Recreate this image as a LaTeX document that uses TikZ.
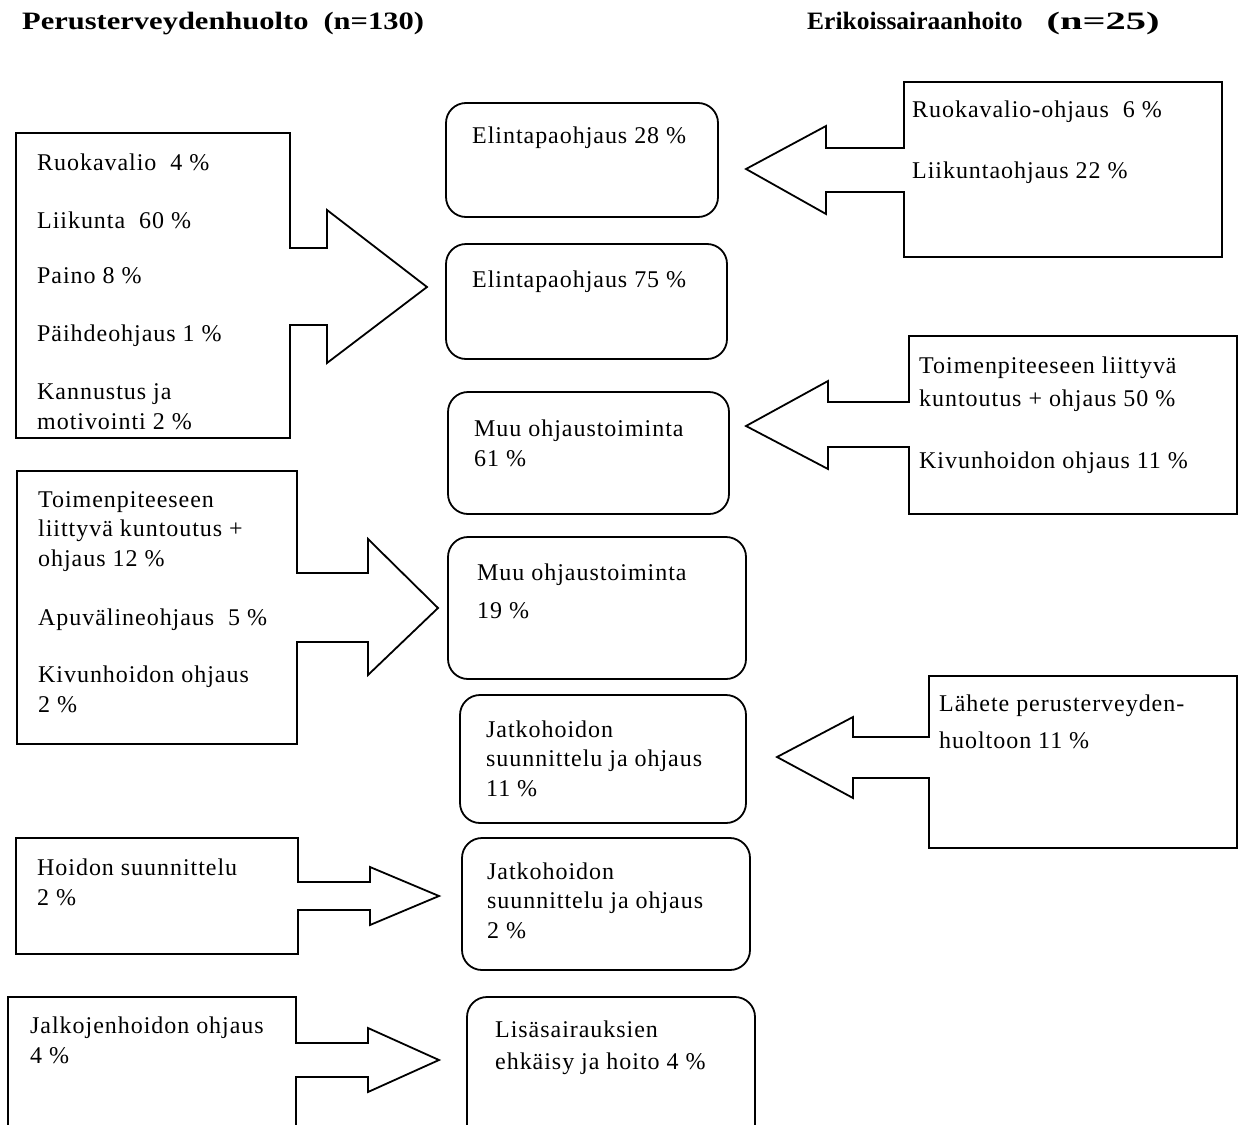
\documentclass[tikz,border=0pt]{standalone}
\usepackage{fontspec}
\setmainfont{Liberation Serif}
\newfontfamily\bodyfont[LetterSpace=4]{Liberation Serif}
\newfontfamily\headwide[FakeStretch=1.22]{Liberation Serif}
\newfontfamily\headplain[FakeStretch=1.02]{Liberation Serif}
\newfontfamily\headparen[FakeStretch=1.62]{Liberation Serif}

\tikzset{
  frame/.style={draw=black, line width=1.8pt, line join=miter},
  roundbox/.style={draw=black, line width=1.8pt, rounded corners=20pt},
  % multi-line labels are anchored at the baseline of their last line
  txt/.style={anchor=base west, inner sep=0pt, align=left,
              font=\bodyfont\fontsize{24}{29.5}\selectfont},
  headL/.style={anchor=base west, inner sep=0pt,
                font=\headwide\bfseries\fontsize{25}{30}\selectfont},
  headR/.style={anchor=base west, inner sep=0pt,
                font=\headplain\bfseries\fontsize{25}{30}\selectfont},
}

\begin{document}
\begin{tikzpicture}[x=1pt, y=-1pt]
  \useasboundingbox (0,0) rectangle (1246,1124);
  \clip (0,0) rectangle (1246,1124);
  \fill[white] (0,0) rectangle (1246,1124);

  % column headings
  \node[headL] (hPerus) at (22,30) {Perusterveydenhuolto\hspace{15pt}(n=130)};
  \node[headR] (hErik)  at (807,30) {Erikoissairaanhoito\hspace{24pt}{\headparen (n=25)}};

  % ---------- primary care: boxes with block arrows pointing right ----------
  \draw[frame] (16,133) -- (290,133) -- (290,248) -- (327,248) -- (327,210)
    -- (427,287) -- (327,363) -- (327,325) -- (290,325) -- (290,438)
    -- (16,438) -- cycle;
  \node[txt] (pRuoka)  at (37,170) {Ruokavalio\ \ 4 \%};
  \node[txt] (pLiik)   at (37,228) {Liikunta\ \ 60 \%};
  \node[txt] (pPaino)  at (37,283) {Paino 8 \%};
  \node[txt] (pPaihde) at (37,341) {Päihdeohjaus 1 \%};
  \node[txt] (pKann)   at (37,429) {Kannustus ja\\motivointi 2 \%};

  \draw[frame] (17,471) -- (297,471) -- (297,573) -- (368,573) -- (368,539)
    -- (438,608) -- (368,675) -- (368,642) -- (297,642) -- (297,744)
    -- (17,744) -- cycle;
  \node[txt] (pToim)  at (38,566) {Toimenpiteeseen\\liittyvä kuntoutus +\\ohjaus 12 \%};
  \node[txt] (pApuv)  at (38,625) {Apuvälineohjaus\ \ 5 \%};
  \node[txt] (pKivun) at (38,712) {Kivunhoidon ohjaus\\2 \%};

  \draw[frame] (16,838) -- (298,838) -- (298,882) -- (370,882) -- (370,867)
    -- (439,896) -- (370,925) -- (370,910) -- (298,910) -- (298,954)
    -- (16,954) -- cycle;
  \node[txt] (pHoid) at (37,905) {Hoidon suunnittelu\\2 \%};

  \draw[frame] (8,1140) -- (8,997) -- (296,997) -- (296,1043) -- (368,1043)
    -- (368,1028) -- (439,1060) -- (368,1092) -- (368,1077) -- (296,1077)
    -- (296,1140);
  \node[txt] (pJalk) at (30,1063) {Jalkojenhoidon ohjaus\\4 \%};

  % ---------- outcome boxes in the middle column ----------
  \draw[roundbox] (446,103) rectangle (718,217);
  \node[txt] (cElin1) at (472,143) {Elintapaohjaus 28 \%};

  \draw[roundbox] (446,244) rectangle (727,359);
  \node[txt] (cElin2) at (472,287) {Elintapaohjaus 75 \%};

  \draw[roundbox] (448,392) rectangle (729,514);
  \node[txt] (cMuu1) at (474,466) {Muu ohjaustoiminta\\61 \%};

  \draw[roundbox] (448,537) rectangle (746,679);
  \node[txt] (cMuu2) at (477,618) {Muu ohjaustoiminta\\[8.5pt]19 \%};

  \draw[roundbox] (460,695) rectangle (746,823);
  \node[txt] (cJatko1) at (486,796) {Jatkohoidon\\suunnittelu ja ohjaus\\11 \%};

  \draw[roundbox] (462,838) rectangle (750,970);
  \node[txt] (cJatko2) at (487,938) {Jatkohoidon\\suunnittelu ja ohjaus\\2 \%};

  \draw[roundbox] (467,997) rectangle (755,1150);
  \node[txt] (cLisa) at (495,1069.5) {Lisäsairauksien\\[3pt]ehkäisy ja hoito 4 \%};

  % ---------- specialised care: boxes with block arrows pointing left ----------
  \draw[frame] (1222,82) -- (904,82) -- (904,148) -- (826,148) -- (826,126)
    -- (746,169) -- (826,214) -- (826,192) -- (904,192) -- (904,257)
    -- (1222,257) -- cycle;
  \node[txt] (eRuoka) at (912,117) {Ruokavalio-ohjaus\ \ 6 \%};
  \node[txt] (eLiik)  at (912,178) {Liikuntaohjaus 22 \%};

  \draw[frame] (1237,336) -- (909,336) -- (909,402) -- (828,402) -- (828,381)
    -- (746,426) -- (828,469) -- (828,447) -- (909,447) -- (909,514)
    -- (1237,514) -- cycle;
  \node[txt] (eToim)  at (919,406.5) {Toimenpiteeseen liittyvä\\[4pt]kuntoutus + ohjaus 50 \%};
  \node[txt] (eKivun) at (919,468) {Kivunhoidon ohjaus 11 \%};

  \draw[frame] (1237,676) -- (929,676) -- (929,737) -- (853,737) -- (853,717)
    -- (777,757) -- (853,798) -- (853,778) -- (929,778) -- (929,848)
    -- (1237,848) -- cycle;
  \node[txt] (eLahete) at (939,748) {Lähete perusterveyden-\\[7.5pt]huoltoon 11 \%};
\end{tikzpicture}
\end{document}
